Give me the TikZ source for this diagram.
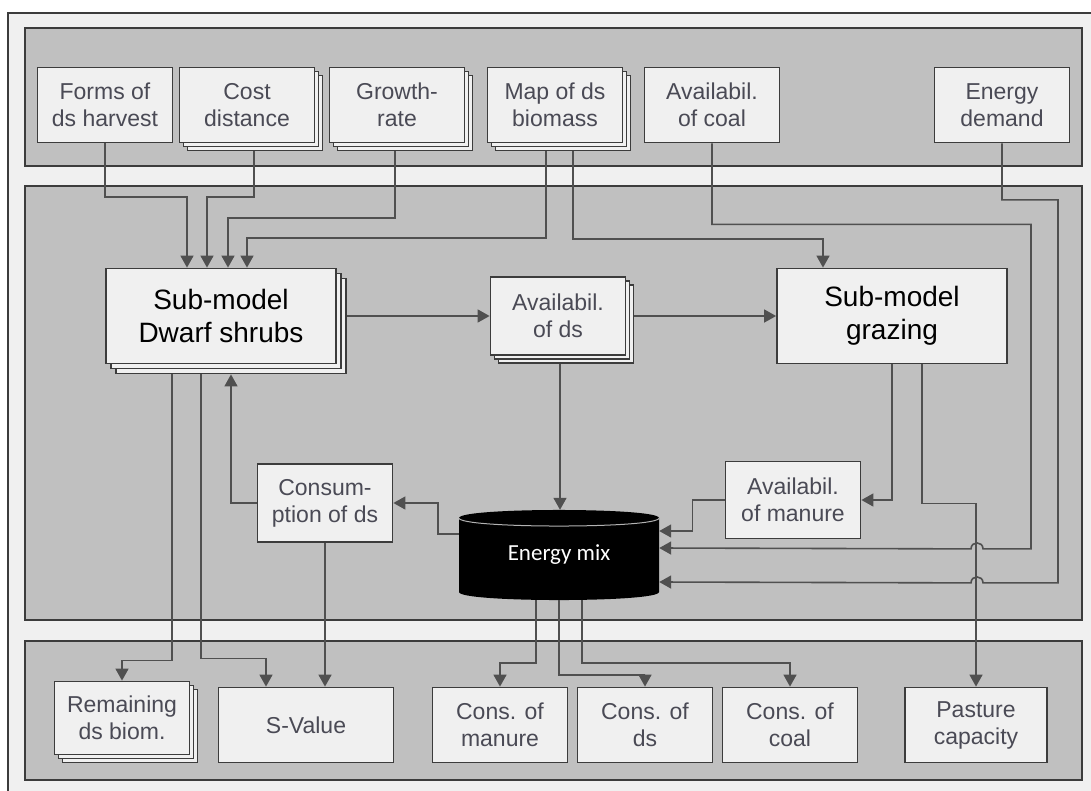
\documentclass[tikz,border=0pt]{standalone}
\usepackage{fontspec}
\setmainfont{Liberation Sans}
\newfontfamily\calibri{Carlito}
\usetikzlibrary{arrows.meta,positioning,shadows}
\definecolor{panelgray}{HTML}{C0C0C0}
\definecolor{boxfill}{HTML}{F0F0F0}
\definecolor{bggray}{HTML}{F0F0F0}
\definecolor{edge}{HTML}{3C3C3C}
\definecolor{wire}{HTML}{505050}
\definecolor{inkgray}{HTML}{4A4A55}

\begin{document}
\begin{tikzpicture}[x=1pt,y=-1pt,
  panel/.style={draw=edge,line width=1.5pt,fill=panelgray},
  box/.style={draw=edge,line width=1.8pt,fill=boxfill,align=center,inner sep=0pt,minimum width=135pt,minimum height=75pt,text=inkgray,font=\fontsize{23}{27}\selectfont},
  stack/.style={box,general shadow={shadow xshift=8pt,shadow yshift=-8pt,fill=boxfill,draw=edge,line width=1.5pt},general shadow={shadow xshift=4pt,shadow yshift=-4pt,fill=boxfill,draw=edge,line width=1.5pt}},
  bigstack/.style={general shadow={shadow xshift=10pt,shadow yshift=-10pt,fill=boxfill,draw=edge,line width=1.5pt},general shadow={shadow xshift=5pt,shadow yshift=-5pt,fill=boxfill,draw=edge,line width=1.5pt}},
  big/.style={box,minimum width=230pt,minimum height=95pt,text=black,font=\fontsize{28}{33}\selectfont},
  arrow/.style={draw=wire,line width=1.6pt,-{Triangle[length=12pt,width=13pt]}}
]
\useasboundingbox (0,0) rectangle (1091,790);
\fill[white] (0,0) rectangle (1091,790);
\draw[edge,line width=1.5pt,fill=bggray] (8,13) rectangle (1100,800);
\draw[panel] (25,28) rectangle (1082,166);
\draw[panel] (25,186) rectangle (1082,620);
\draw[panel] (25,641) rectangle (1082,780);
\fill[black] (459,518) -- (459,592) .. controls (459,602.7) and (659,602.7) .. (659,592) -- (659,518) .. controls (659,507.3) and (459,507.3) .. (459,518) -- cycle;
\draw[gray!60,line width=1pt] (459,518) .. controls (459,528.7) and (659,528.7) .. (659,518);

\node[box] (forms) at (105,105) {Forms of\\ds harvest};
\node[stack] (cost) at (247,105) {Cost\\distance};
\node[stack] (growth) at (397,105) {Growth-\\rate};
\node[stack] (map) at (555,105) {Map of ds\\biomass};
\node[box] (coal) at (712,105) {Availabil.\\of coal};
\node[box] (energy) at (1002,105) {Energy\\demand};
\node[big,bigstack] (dwarf) at (221,316) {Sub-model\\Dwarf shrubs};
\node[stack,minimum height=78pt] (avds) at (558,316) {Availabil.\\of ds};
\node[big] (grazing) at (892,316) {Sub-model\\grazing};
\node[box,minimum height=78pt] (consum) at (325,503) {Consum-\\ption of ds};
\node[box,minimum height=77pt] (manure) at (793,500) {Availabil.\\of manure};
\node[text=white,font=\calibri\fontsize{23}{27}\selectfont,minimum width=200pt,minimum height=90pt,inner sep=0pt] (emix) at (559,555) {Energy mix};
\node[stack,minimum height=73pt] (remaining) at (122,718) {Remaining\\ds biom.};
\node[box,minimum width=175pt] (svalue) at (306,725) {S-Value};
\node[box] (consman) at (500,725) {Cons. of\\manure};
\node[box] (consds) at (645,725) {Cons. of\\ds};
\node[box] (conscoal) at (790,725) {Cons. of\\coal};
\node[box,minimum width=142pt] (pasture) at (976,725) {Pasture\\capacity};

\draw[arrow] (forms.south) -- ++(0,53.5) -| ([xshift=-34pt]dwarf.north);
\draw[arrow] ([xshift=7pt,yshift=-8pt]cost.south) -- ++(0,45.5) -| ([xshift=-14pt]dwarf.north);
\draw[arrow] ([xshift=-2pt,yshift=-8pt]growth.south) -- ++(0,66.5) -| ([xshift=7pt]dwarf.north);
\draw[arrow] ([xshift=-9pt,yshift=-8pt]map.south) -- ++(0,86.5) -| ([xshift=26pt]dwarf.north);
\draw[arrow] ([xshift=18pt,yshift=-8pt]map.south) -- ++(0,87.5) -| ([xshift=-69pt]grazing.north);
\draw[arrow] (coal.south) -- ++(0,81) -- ++(319,0) -- ++(0,324.5) -- ++(-48,0) .. controls +(0,-8) and +(0,-8) .. ++(-12,0) -- ([yshift=7pt]emix.east);
\draw[arrow] (energy.south) -- ++(0,56.5) -- ++(56,0) -- ++(0,383) -- ++(-75,0) .. controls +(0,-8) and +(0,-8) .. ++(-12,0) -- ([yshift=-27pt]emix.east);
\draw[arrow] ([xshift=10pt]dwarf.east) -- (avds.west);
\draw[arrow] ([xshift=8pt]avds.east) -- (grazing.west);
\draw[arrow] ([xshift=2pt,yshift=-8pt]avds.south) -- ([xshift=1pt]emix.north);
\draw[arrow] (grazing.south) |- (manure.east);
\draw[arrow] ([xshift=30pt]grazing.south) -- ++(0,139) -| (pasture.north);
\draw[arrow] (manure.west) -- ++(-32,0) |- ([yshift=24pt]emix.east);
\draw[arrow] ([yshift=21pt]emix.west) -- ++(-21,0) |- (consum.east);
\draw[arrow] (consum.west) -| ([xshift=10pt,yshift=-10pt]dwarf.south);
\draw[arrow] (consum.south) -- (consum.south |- svalue.north);
\draw[arrow] ([xshift=-49pt,yshift=-10pt]dwarf.south) -- ++(0,286) -| (remaining.north);
\draw[arrow] ([xshift=-20pt,yshift=-10pt]dwarf.south) -- ++(0,284) -| ([xshift=-40pt]svalue.north);
\draw[arrow] ([xshift=-23pt]emix.south) -- ++(0,63) -| (consman.north);
\draw[arrow] (emix.south) -- ++(0,75) -| (consds.north);
\draw[arrow] ([xshift=23pt]emix.south) -- ++(0,63) -| (conscoal.north);
\end{tikzpicture}
\end{document}
